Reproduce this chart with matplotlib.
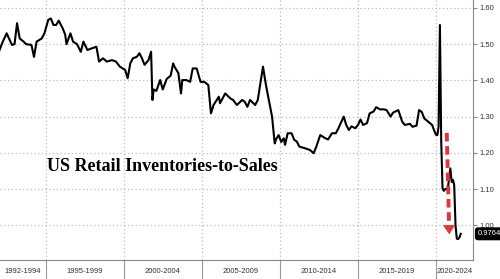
import pandas as pd
import matplotlib.pyplot as plt

# US retail inventories-to-sales ratio
dates = ['1992-01', '1992-04', '1992-07', '1992-11', '1993-01', '1993-03', '1993-05', '1993-08',
         '1993-10', '1994-02', '1994-04', '1994-06', '1994-10', '1994-12', '1995-03', '1995-05',
         '1995-07', '1995-09', '1995-11', '1996-02', '1996-04', '1996-05', '1996-08', '1996-10',
         '1997-01', '1997-04', '1997-06', '1997-09', '1997-12', '1998-04', '1998-06', '1998-09',
         '1998-12', '1999-04', '1999-07', '1999-10', '2000-02', '2000-04', '2000-06', '2000-08',
         '2000-11', '2001-01', '2001-03', '2001-05', '2001-08', '2001-10', '2001-11', '2001-12',
         '2002-02', '2002-05', '2002-07', '2002-10', '2003-01', '2003-03', '2003-04', '2003-07',
         '2003-09', '2003-10', '2004-01', '2004-04', '2004-06', '2004-09', '2004-12', '2005-03',
         '2005-06', '2005-08', '2005-10', '2006-02', '2006-03', '2006-07', '2006-11', '2007-01',
         '2007-04', '2007-08', '2007-10', '2007-12', '2008-02', '2008-06', '2008-08', '2008-12',
         '2009-02', '2009-04', '2009-07', '2009-09', '2009-10', '2009-12', '2010-02', '2010-04',
         '2010-05', '2010-07', '2010-10', '2010-12', '2011-02', '2011-04', '2011-08', '2011-12',
         '2012-03', '2012-05', '2012-08', '2012-12', '2013-02', '2013-05', '2013-08', '2013-10',
         '2014-02', '2014-04', '2014-06', '2014-08', '2014-11', '2015-01', '2015-03', '2015-05',
         '2015-08', '2015-10', '2016-01', '2016-03', '2016-06', '2016-09', '2016-11', '2017-02',
         '2017-04', '2017-08', '2017-11', '2018-01', '2018-05', '2018-07', '2018-10', '2018-12',
         '2019-02', '2019-04', '2019-07', '2019-10', '2019-12', '2020-01', '2020-02', '2020-03',
         '2020-04', '2020-05', '2020-06', '2020-07', '2020-08', '2020-09', '2020-10', '2020-11',
         '2020-12', '2021-01', '2021-02', '2021-03', '2021-04', '2021-05', '2021-06', '2021-07',
         '2021-08']
ratio = [1.479, 1.507, 1.530, 1.498, 1.500, 1.558, 1.516, 1.507,
         1.500, 1.498, 1.465, 1.507, 1.516, 1.530, 1.567, 1.571,
         1.553, 1.553, 1.565, 1.544, 1.526, 1.500, 1.530, 1.507,
         1.500, 1.479, 1.507, 1.484, 1.488, 1.493, 1.452, 1.461,
         1.452, 1.456, 1.452, 1.438, 1.429, 1.406, 1.447, 1.461,
         1.465, 1.475, 1.461, 1.443, 1.456, 1.479, 1.346, 1.375,
         1.371, 1.401, 1.375, 1.404, 1.413, 1.447, 1.438, 1.420,
         1.364, 1.401, 1.401, 1.396, 1.433, 1.433, 1.396, 1.396,
         1.387, 1.309, 1.332, 1.355, 1.337, 1.364, 1.350, 1.346,
         1.332, 1.346, 1.341, 1.327, 1.346, 1.332, 1.346, 1.438,
         1.392, 1.355, 1.300, 1.226, 1.237, 1.249, 1.230, 1.240,
         1.222, 1.254, 1.254, 1.236, 1.231, 1.217, 1.213, 1.208,
         1.199, 1.217, 1.249, 1.240, 1.237, 1.254, 1.254, 1.268,
         1.300, 1.277, 1.263, 1.273, 1.268, 1.277, 1.292, 1.277,
         1.282, 1.309, 1.314, 1.326, 1.320, 1.320, 1.318, 1.300,
         1.311, 1.318, 1.286, 1.277, 1.280, 1.272, 1.275, 1.318,
         1.313, 1.295, 1.286, 1.277, 1.258, 1.250, 1.249, 1.272,
         1.553, 1.235, 1.102, 1.095, 1.100, 1.100, 1.100, 1.130,
         1.157, 1.120, 1.125, 1.111, 1.000, 0.963, 0.962, 0.966,
         0.9764]
last_label = '0.9764'

period_labels = ['1992-1994', '1995-1999', '2000-2004', '2005-2009', '2010-2014', '2015-2019', '2020-2024']
period_bounds = ['1992-01-01', '1995-01-01', '2000-01-01', '2005-01-01', '2010-01-01',
                 '2015-01-01', '2020-01-01', '2025-01-01']
y_ticks = [1.00, 1.10, 1.20, 1.30, 1.40, 1.50, 1.60]

df = pd.DataFrame({'date': pd.to_datetime(dates), 'ratio': ratio})
bounds = pd.to_datetime(period_bounds)

fig = plt.figure(figsize=(5, 2.79), dpi=100)
ax = fig.add_axes([0, 0.068, 0.946, 0.932])

x_start = pd.Timestamp('1992-01-27')
x_end = pd.Timestamp('2022-05-15')
ax.set_xlim(x_start, x_end)
ax.set_ylim(0.904, 1.622)

# grid
for y in y_ticks:
    ax.axhline(y, color='#bdbdbd', lw=0.9, ls=(0, (1, 2)), zorder=0)
for b in bounds[1:-1]:
    ax.axvline(b, color='#bdbdbd', lw=0.9, ls=(0, (1, 2)), zorder=0)

ax.plot(df['date'], df['ratio'], color='black', lw=1.5, zorder=3)

# spines
for s in ['top', 'left']:
    ax.spines[s].set_visible(False)
ax.spines['right'].set_color('#888888')
ax.spines['bottom'].set_color('#888888')
ax.spines['right'].set_linewidth(0.8)
ax.spines['bottom'].set_linewidth(0.8)

# y axis on the right
ax.yaxis.tick_right()
ax.set_yticks(y_ticks)
ax.set_yticklabels([f'{v:.2f}' for v in y_ticks])
ax.tick_params(axis='y', length=3, width=0.8, color='#888888', labelsize=5.5,
               labelcolor='#333333', pad=1.5)
for lbl in ax.get_yticklabels():
    lbl.set_family('Liberation Sans')

# x axis: separators as long major ticks, period names as minor tick labels
ax.set_xticks(bounds[1:-1])
ax.set_xticklabels([])
ax.tick_params(axis='x', which='major', length=14, width=0.8, color='#999999', direction='out')
centers = []
for i in range(len(period_labels)):
    lo = max(bounds[i], x_start)
    hi = min(bounds[i + 1], x_end)
    centers.append(lo + (hi - lo) / 2)
ax.set_xticks(centers, minor=True)
ax.set_xticklabels(period_labels, minor=True, family='Liberation Sans', fontsize=5.5, color='#333333')
ax.tick_params(axis='x', which='minor', length=0, pad=6)

# title inside the plot
ax.text(0.099, 0.342, 'US Retail Inventories-to-Sales', transform=ax.transAxes,
        family='Liberation Serif', fontweight='bold', fontsize=13, ha='left', va='baseline')

# last value tag
ax.annotate(last_label, xy=(1, ratio[-1]), xycoords=('axes fraction', 'data'),
            xytext=(3.5, 0), textcoords='offset points', ha='left', va='center',
            fontsize=5.5, family='Liberation Sans', color='white', annotation_clip=False,
            bbox=dict(boxstyle='round,pad=0.3,rounding_size=0.3', fc='black', ec='black'))

# red dashed arrow
red = '#e0353c'
arrow_top = (pd.Timestamp('2020-09-08'), 1.255)
arrow_tip = (pd.Timestamp('2020-11-07'), 0.975)
arrow_neck = (pd.Timestamp('2020-11-01'), 1.0)
ax.plot([arrow_top[0], arrow_neck[0]], [arrow_top[1], arrow_neck[1]], color=red, lw=2.8,
        ls=(0, (2.2, 1.2)), zorder=4)
ax.annotate('', xy=arrow_tip, xytext=arrow_neck,
            arrowprops=dict(arrowstyle='-|>,head_length=0.6,head_width=0.4', color=red, lw=0.5,
                            mutation_scale=10, shrinkA=0, shrinkB=0), zorder=4)

plt.savefig('out.png', dpi=100)
